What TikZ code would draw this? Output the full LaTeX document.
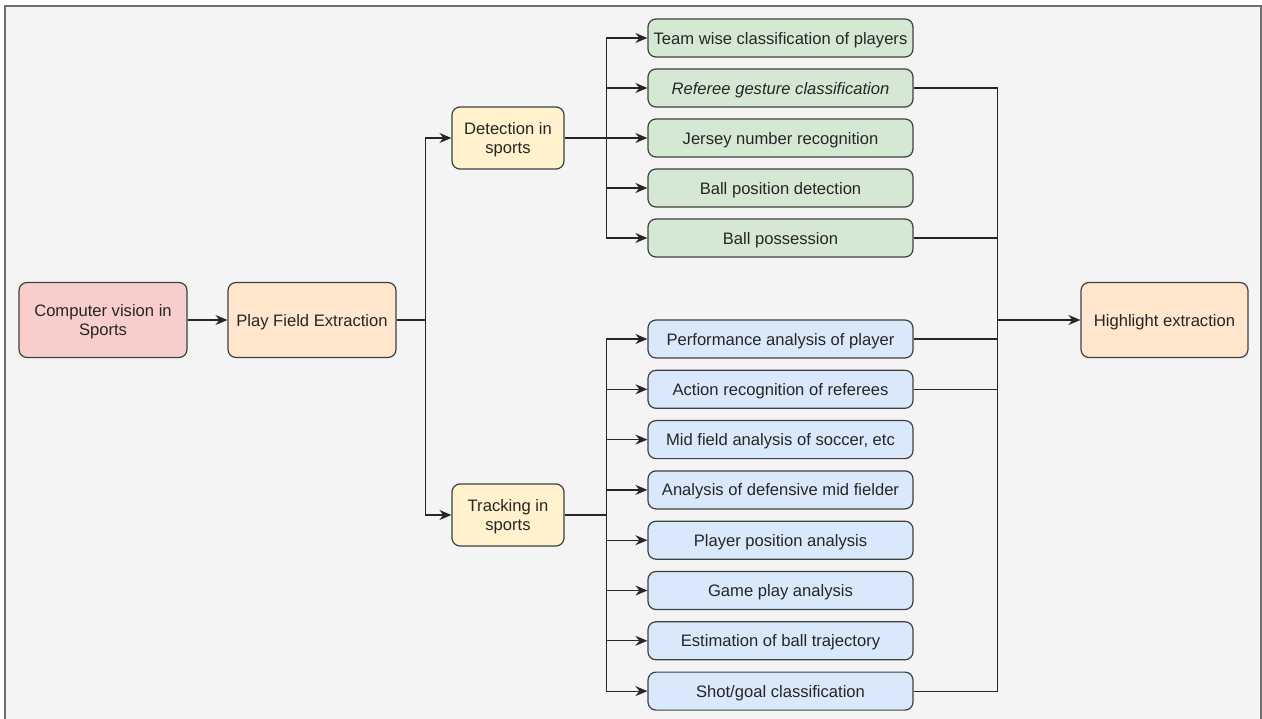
\documentclass[tikz,border=0pt]{standalone}
\usepackage{fontspec}
\setmainfont{Liberation Sans}
\usepackage{tikz}
\usetikzlibrary{arrows.meta}
\usetikzlibrary{positioning}
\definecolor{bgGray}{HTML}{F4F4F4}
\definecolor{frameGray}{HTML}{6E6E6E}
\definecolor{cvPink}{HTML}{F8CECC}
\definecolor{fieldPeach}{HTML}{FFE6CC}
\definecolor{taskCream}{HTML}{FFF2CC}
\definecolor{detGreen}{HTML}{D5E8D4}
\definecolor{trkBlue}{HTML}{DAE8FC}
\tikzset{
% Define standard arrow tip
>={Stealth[length=12pt, width=10pt, inset=4pt]},
flowbox/.style={rectangle, draw=black!75, line width=1.2pt,
  rounded corners=8pt, align=center, inner sep=0, text depth=0pt,
  text=black!85, font=\fontsize{16.6}{19}\selectfont},
bigbox/.style={flowbox, minimum width=168pt, minimum height=75pt},
taskbox/.style={flowbox, minimum width=112pt, minimum height=62pt, fill=taskCream},
leafbox/.style={flowbox, minimum width=265pt, minimum height=38pt},
link/.style={draw=black!85, line width=1.2pt}
}

\begin{document}
\begin{tikzpicture}[x=1pt, y=-1pt]
  \useasboundingbox (0,0) rectangle (1262,719);
  \fill[bgGray] (5,6) rectangle (1262,719);
  \draw[frameGray, line width=2pt] (5,719) -- (5,6) -- (1261,6) -- (1261,719);

  \node[bigbox, fill=cvPink] (cv) at (103,320) {Computer vision in\\Sports};
  \node[bigbox, fill=fieldPeach] (field) at ([xshift=209pt]cv.center) {Play Field Extraction};

  \node[taskbox] (detect) at (508,138) {Detection in\\sports};
  \node[taskbox] (track) at (508,515) {Tracking in\\sports};

  % detection leaves
  \node[leafbox, fill=detGreen] (team) at (780.5,38) {Team wise classification of players};
  \node[leafbox, fill=detGreen] (referee) at ([yshift=-50pt]team.center) {\itshape Referee gesture classification};
  \node[leafbox, fill=detGreen] (jersey) at ([yshift=-50pt]referee.center) {Jersey number recognition};
  \node[leafbox, fill=detGreen] (ballpos) at ([yshift=-50pt]jersey.center) {Ball position detection};
  \node[leafbox, fill=detGreen] (possession) at ([yshift=-50pt]ballpos.center) {Ball possession};

  % tracking leaves
  \node[leafbox, fill=trkBlue] (perform) at (780.5,339) {Performance analysis of player};
  \node[leafbox, fill=trkBlue] (action) at ([yshift=-50.3pt]perform.center) {Action recognition of referees};
  \node[leafbox, fill=trkBlue] (midfield) at ([yshift=-50.3pt]action.center) {Mid field analysis of soccer, etc};
  \node[leafbox, fill=trkBlue] (defensive) at ([yshift=-50.3pt]midfield.center) {Analysis of defensive mid fielder};
  \node[leafbox, fill=trkBlue] (playerpos) at ([yshift=-50.3pt]defensive.center) {Player position analysis};
  \node[leafbox, fill=trkBlue] (gameplay) at ([yshift=-50.3pt]playerpos.center) {Game play analysis};
  \node[leafbox, fill=trkBlue] (trajectory) at ([yshift=-50.3pt]gameplay.center) {Estimation of ball trajectory};
  \node[leafbox, fill=trkBlue] (shot) at ([yshift=-50.3pt]trajectory.center) {Shot/goal classification};

  \node[bigbox, fill=fieldPeach, minimum width=167pt] (highlight) at (1164.5,320) {Highlight extraction};

  \coordinate (fork1) at ([xshift=29pt]field.east);
  \coordinate (fork2) at ([xshift=42pt]detect.east);
  \coordinate (fork3) at ([xshift=42pt]track.east);
  \coordinate (merge) at ([xshift=84pt]referee.east);

  \draw[link, ->] (cv.east) -- (field.west);
  \draw[link] (field.east) -- (fork1);
  \draw[link, ->] (fork1) |- (detect.west);
  \draw[link, ->] (fork1) |- (track.west);

  \draw[link] (detect.east) -- (fork2);
  \draw[link, ->] (fork2) |- (team.west);
  \draw[link, ->] (fork2) |- (referee.west);
  \draw[link, ->] (fork2) -- (jersey.west);
  \draw[link, ->] (fork2) |- (ballpos.west);
  \draw[link, ->] (fork2) |- (possession.west);

  \draw[link] (track.east) -- (fork3);
  \draw[link, ->] (fork3) |- (perform.west);
  \draw[link, ->] (fork3) |- (action.west);
  \draw[link, ->] (fork3) |- (midfield.west);
  \draw[link, ->] (fork3) |- (defensive.west);
  \draw[link, ->] (fork3) |- (playerpos.west);
  \draw[link, ->] (fork3) |- (gameplay.west);
  \draw[link, ->] (fork3) |- (trajectory.west);
  \draw[link, ->] (fork3) |- (shot.west);

  \draw[link] (referee.east) -- (merge) -- (merge |- shot.east) -- (shot.east);
  \draw[link] (possession.east) -- (possession.east -| merge);
  \draw[link] (perform.east) -- (perform.east -| merge);
  \draw[link] (action.east) -- (action.east -| merge);
  \draw[link, ->, line width=1.6pt] (merge |- highlight.west) -- (highlight.west);
\end{tikzpicture}
\end{document}
